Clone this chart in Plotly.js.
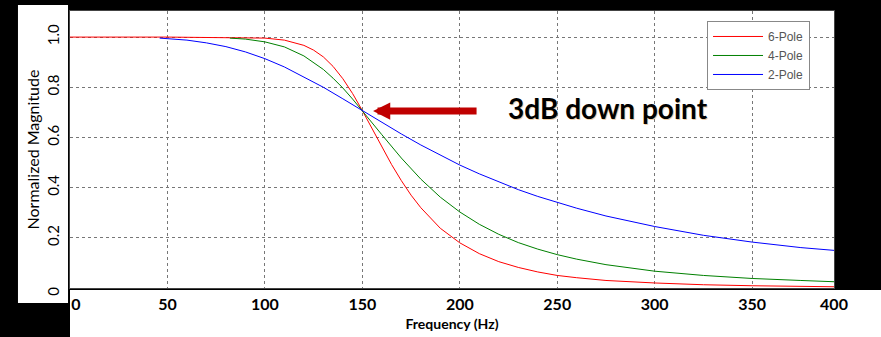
<!DOCTYPE html>
<html>
<head>
<meta charset="utf-8">
<script src="https://cdn.plot.ly/plotly-3.0.1.min.js"></script>
<style>
  html, body { margin: 0; padding: 0; background: #000; }
  #chart { width: 881px; height: 337px; }
</style>
</head>
<body>
<div id="chart"></div>
<script>
// ---- Data ----
const seriesNames = ['6-Pole', '4-Pole', '2-Pole'];

const freq6 = [0, 50, 100, 110, 120, 125, 130, 135, 140, 145, 150, 155, 160, 165, 170, 175, 180, 190, 200, 210, 220, 230, 240, 250, 260, 275, 300, 325, 350, 375, 392];
const mag6  = [1.000, 1.000, 0.996, 0.988, 0.967, 0.948, 0.921, 0.883, 0.834, 0.775, 0.707, 0.635, 0.562, 0.492, 0.428, 0.370, 0.320, 0.238, 0.180, 0.137, 0.105, 0.082, 0.064, 0.050, 0.041, 0.030, 0.020, 0.013, 0.009, 0.006, 0.005];

const freq4 = [82, 90, 100, 110, 120, 130, 135, 140, 145, 150, 155, 160, 170, 180, 190, 200, 210, 220, 230, 240, 250, 260, 275, 300, 325, 350, 375, 392];
const mag4  = [0.996, 0.992, 0.981, 0.961, 0.925, 0.871, 0.836, 0.797, 0.753, 0.707, 0.659, 0.611, 0.518, 0.434, 0.362, 0.303, 0.254, 0.214, 0.181, 0.155, 0.133, 0.115, 0.093, 0.067, 0.050, 0.038, 0.030, 0.025];

const freq2 = [46, 60, 70, 80, 90, 100, 110, 120, 130, 140, 150, 160, 170, 180, 190, 200, 210, 220, 230, 240, 250, 260, 275, 300, 325, 350, 375, 392];
const mag2  = [0.996, 0.988, 0.977, 0.962, 0.941, 0.914, 0.881, 0.842, 0.800, 0.754, 0.707, 0.660, 0.614, 0.570, 0.529, 0.490, 0.455, 0.422, 0.392, 0.365, 0.340, 0.318, 0.287, 0.245, 0.210, 0.183, 0.161, 0.150];

const xTickVals = [0, 50, 100, 150, 200, 250, 300, 350, 392];
const xTickText = ['\u20030', '50', '100', '150', '200', '250', '300', '350', '400'];
const yTickVals = [0, 0.2, 0.4, 0.6, 0.8, 1.0];
const yTickText = ['0\u2003', '0.2', '0.4', '0.6', '0.8', '1.0'];

const lineColors = ['#FF0000', '#008000', '#0000FF'];

const traces = [
  { x: freq6, y: mag6, name: seriesNames[0], type: 'scatter', mode: 'lines', line: { color: lineColors[0], width: 1 } },
  { x: freq4, y: mag4, name: seriesNames[1], type: 'scatter', mode: 'lines', line: { color: lineColors[1], width: 1 } },
  { x: freq2, y: mag2, name: seriesNames[2], type: 'scatter', mode: 'lines', line: { color: lineColors[2], width: 1 } }
];

const gridStyle = { showgrid: true, gridcolor: '#777', gridwidth: 1, griddash: '3px,3px', zeroline: false, showline: true, linecolor: '#444', linewidth: 1, mirror: true };

const layout = {
  width: 881, height: 337,
  margin: { l: 70, r: 47, t: 11, b: 49, pad: 0 },
  paper_bgcolor: '#000', plot_bgcolor: '#fff',
  showlegend: true,
  xaxis: Object.assign({}, gridStyle, {
    range: [0, 392], tickmode: 'array', tickvals: xTickVals, ticktext: xTickText,
    ticks: 'outside', ticklen: 2, tickcolor: 'rgba(0,0,0,0)',
    tickfont: { family: 'Lato', size: 16, color: '#000', weight: 'bold' },
    title: { text: 'Frequency (Hz)', font: { family: 'Lato', size: 14, color: '#000', weight: 'bold' }, standoff: 6 }
  }),
  yaxis: Object.assign({}, gridStyle, {
    range: [0, 1.104], tickmode: 'array', tickvals: yTickVals, ticktext: yTickText,
    tickangle: -90, ticks: 'outside', ticklen: 4, tickcolor: 'rgba(0,0,0,0)',
    tickfont: { family: 'Lato', size: 15, color: '#000' },
    title: { text: 'Normalized Magnitude', font: { family: 'Lato', size: 16, color: '#000' }, standoff: 0 }
  }),
  legend: {
    x: 0.8338, y: 0.964, xanchor: 'left', yanchor: 'top',
    bgcolor: '#fff', bordercolor: '#888', borderwidth: 1,
    font: { family: 'Liberation Sans', size: 12, color: '#555' },
    itemwidth: 50, tracegroupgap: 0
  },
  shapes: [
    { type: 'rect', xref: 'paper', yref: 'paper', x0: -0.0681, x1: -0.0026, y0: -0.0542, y1: 1.0217, fillcolor: '#fff', line: { width: 0 }, layer: 'below' },
    { type: 'rect', xref: 'paper', yref: 'paper', x0: 0, x1: 1.07, y0: -0.18, y1: -0.0072, fillcolor: '#fff', line: { width: 0 }, layer: 'below' }
  ],
  annotations: [
    { x: 155.5, y: 0.705, xref: 'x', yref: 'y', text: '', showarrow: true, ax: 105, ay: 0,
      arrowhead: 2, arrowsize: 0.49, arrowwidth: 7, arrowcolor: '#C00000' },
    { x: 276, y: 0.717, xref: 'x', yref: 'y', text: '3dB down point', showarrow: false,
      font: { family: 'Lato', size: 28, color: '#000', weight: 'bold', shadow: '1px 1px 0px rgba(224,150,60,0.45)' } }
  ]
};

Plotly.newPlot('chart', traces, layout, { displayModeBar: false, staticPlot: true });
</script>
</body>
</html>
